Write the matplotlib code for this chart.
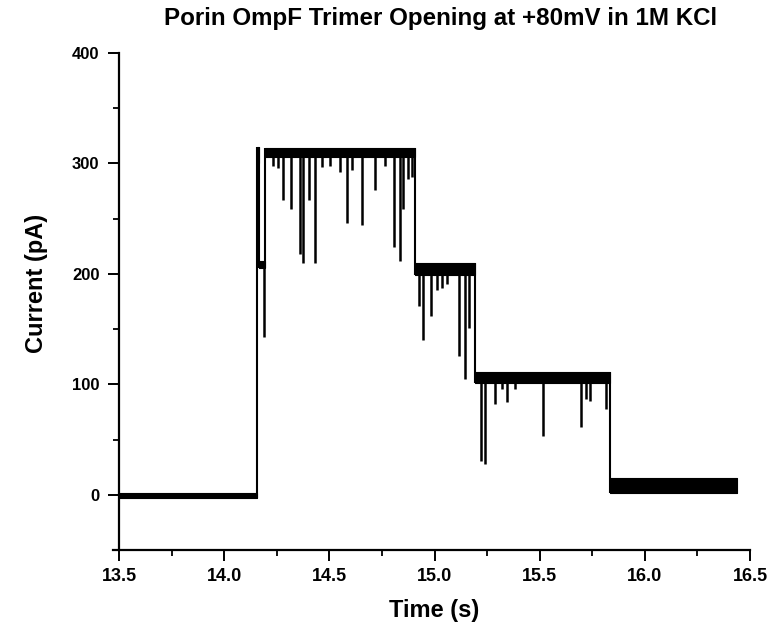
import matplotlib
matplotlib.use("Agg")
import matplotlib.pyplot as plt
from matplotlib.ticker import MultipleLocator

plt.rcParams['font.family'] = ['Liberation Sans', 'DejaVu Sans']
plt.rcParams['font.weight'] = 'bold'

# current levels of the trace: start/end time (s), band low/high (pA)
seg_start = [13.50, 14.156, 14.165, 14.194, 14.907, 15.193, 15.834]
seg_end = [14.156, 14.165, 14.194, 14.907, 15.193, 15.834, 16.44]
seg_low = [-3, 300, 205, 306, 199, 101, 2]
seg_high = [2, 315, 212, 314, 210, 111, 15]

# brief closures (spikes): time (s) and lowest current reached (pA)
spike_t = [14.190, 14.232, 14.256, 14.280, 14.318, 14.361, 14.375, 14.403, 14.432,
           14.465, 14.503, 14.551, 14.584, 14.608, 14.655, 14.717, 14.765, 14.807,
           14.836, 14.850, 14.874, 14.893,
           14.926, 14.945, 14.983, 15.012, 15.036, 15.059, 15.116, 15.145, 15.164,
           15.221, 15.240, 15.288, 15.321, 15.345, 15.383, 15.516, 15.697, 15.720,
           15.739, 15.815]
spike_min = [143, 298, 296, 267, 259, 218, 210, 267, 210,
             297, 298, 292, 246, 294, 244, 276, 298, 224,
             212, 259, 286, 288,
             171, 140, 162, 185, 187, 191, 126, 105, 151,
             31, 28, 82, 96, 84, 96, 53, 61, 87,
             85, 78]
spike_top = [212, 306, 306, 306, 306, 306, 306, 306, 306,
             306, 306, 306, 306, 306, 306, 306, 306, 306,
             306, 306, 306, 306,
             199, 199, 199, 199, 199, 199, 199, 199, 199,
             102, 102, 102, 102, 102, 102, 102, 102, 102,
             102, 102]

fig = plt.figure(figsize=(7.68, 6.27), dpi=100)
ax = fig.add_axes([0.155, 0.1228, 0.8216, 0.7927])

for i in range(len(seg_start)):
    ax.fill_between([seg_start[i], seg_end[i]], seg_low[i], seg_high[i],
                    color='black', linewidth=0.8, edgecolor='black')
    if i > 0:
        ax.vlines(seg_start[i], min(seg_low[i - 1], seg_low[i]),
                  max(seg_high[i - 1], seg_high[i]), color='black', linewidth=1.5)

ax.vlines(spike_t, spike_min, spike_top, color='black', linewidth=1.8)

ax.set_xlim(13.5, 16.5)
ax.set_ylim(-50, 400)
ax.xaxis.set_minor_locator(MultipleLocator(0.25))
ax.yaxis.set_major_locator(MultipleLocator(100))
ax.yaxis.set_minor_locator(MultipleLocator(50))
ax.set_xticks([13.5, 14.0, 14.5, 15.0, 15.5, 16.0, 16.5])
ax.set_xticklabels(['13.5', '14.0', '14.5', '15.0', '15.5', '16.0', '16.5'])

for s in ['top', 'right']:
    ax.spines[s].set_visible(False)
for s in ['left', 'bottom']:
    ax.spines[s].set_linewidth(1.6)
ax.spines['bottom'].set_bounds(13.47, 16.5)

ax.tick_params(axis='both', which='major', direction='out', length=8, width=1.4, pad=5)
ax.tick_params(axis='x', which='major', labelsize=13)
ax.tick_params(axis='y', which='major', labelsize=12, pad=6)
ax.tick_params(axis='both', which='minor', direction='out', length=4.5, width=1.3)

ax.set_xlabel('Time (s)', fontsize=17, fontweight='bold', labelpad=10)
ax.set_ylabel('Current (pA)', fontsize=17, fontweight='bold')
ax.yaxis.set_label_coords(-0.113, 0.536)
fig.text(0.574, 0.970, 'Porin OmpF Trimer Opening at +80mV in 1M KCl',
         ha='center', va='center', fontsize=17.4, fontweight='bold')

fig.savefig('out.png', dpi=100)
